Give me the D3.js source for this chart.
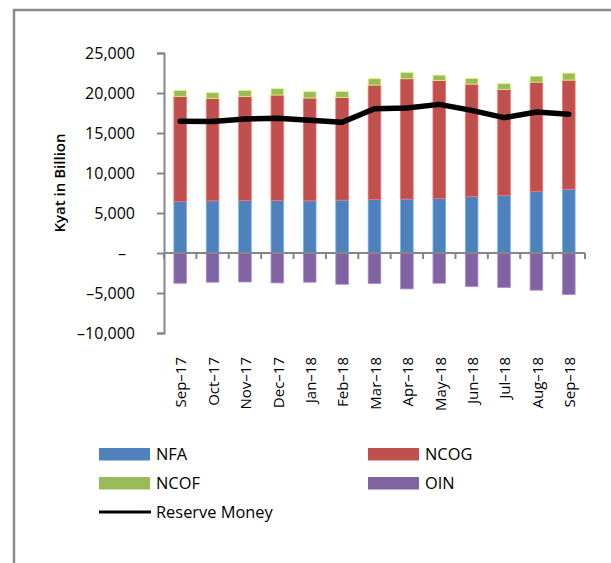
<!DOCTYPE html>
<html>
<head>
<meta charset="utf-8">
<script src="https://cdn.jsdelivr.net/npm/d3@7"></script>
<style>
  body { margin: 0; background: #fff; }
  text { font-family: "Open Sans", "Noto Sans", sans-serif; fill: #000; }
</style>
</head>
<body>
<div class="svgcontainer"></div>
<script>
// months on the x axis
const months = ["Sep\u201317", "Oct\u201317", "Nov\u201317", "Dec\u201317", "Jan\u201318", "Feb\u201318",
    "Mar\u201318", "Apr\u201318", "May\u201318", "Jun\u201318", "Jul\u201318", "Aug\u201318", "Sep\u201318"];

// stacked components (Kyat billion)
const nfa  = [6450, 6520, 6570, 6570, 6520, 6610, 6690, 6730, 6820, 7070, 7200, 7690, 7980];
const ncog = [13130, 12810, 13010, 13175, 12850, 12840, 14300, 15050, 14755, 14040, 13255, 13665, 13630];
const ncof = [750, 710, 750, 790, 790, 750, 795, 785, 660, 710, 710, 750, 875];
const oin  = [-3780, -3650, -3620, -3740, -3650, -3910, -3820, -4490, -3780, -4200, -4320, -4650, -5200];
const reserveMoney = [16460, 16440, 16750, 16840, 16590, 16340, 18040, 18120, 18580, 17830, 16920, 17620, 17330];

const yTicks = [-10000, -5000, 0, 5000, 10000, 15000, 20000, 25000];

const colors = { NFA: "#4F81BD", NCOG: "#C0504D", NCOF: "#9BBB59", OIN: "#8064A2" };

const W = 611, H = 563;
const plot = { left: 164, right: 585, top: 53, bottom: 333 };

const svg = d3.select(".svgcontainer")
    .append("svg")
    .attr("width", W)
    .attr("height", H);

// outer frame (runs past the right and bottom edge)
svg.append("rect")
    .attr("x", 14).attr("y", 10)
    .attr("width", 700).attr("height", 700)
    .attr("fill", "none")
    .attr("stroke", "#8c8c8c")
    .attr("stroke-width", 2.5);

const x = d3.scaleBand().domain(months).range([plot.left, plot.right]).paddingInner(0.61).paddingOuter(0.305);
const y = d3.scaleLinear().domain([-10000, 25000]).range([plot.bottom, plot.top]);

// build stacks: positive parts stack up from 0, OIN hangs below 0
const rows = months.map((m, i) => {
    const a = nfa[i], b = a + ncog[i], c = b + ncof[i];
    return [
        { m, key: "NFA", y0: 0, y1: a },
        { m, key: "NCOG", y0: a, y1: b },
        { m, key: "NCOF", y0: b, y1: c },
        { m, key: "OIN", y0: oin[i], y1: 0 }
    ];
}).flat();

svg.append("g")
    .selectAll("rect")
    .data(rows)
    .enter()
    .append("rect")
    .attr("x", d => x(d.m))
    .attr("width", x.bandwidth())
    .attr("y", d => y(d.y1))
    .attr("height", d => y(d.y0) - y(d.y1))
    .attr("fill", d => colors[d.key])
    .attr("stroke", d => d3.color(colors[d.key]).brighter(0.9))
    .attr("stroke-width", 0.8);

// y axis
const yAxis = svg.append("g")
    .attr("transform", `translate(${plot.left},0)`)
    .call(d3.axisLeft(y).tickValues(yTicks).tickSize(7).tickPadding(22)
        .tickFormat(v => v === 0 ? "\u2013" : (v < 0 ? "\u2013" + d3.format(",")(-v) : d3.format(",")(v))));
yAxis.select(".domain").attr("stroke", "#868686").attr("stroke-width", 2);
yAxis.selectAll(".tick line").attr("stroke", "#868686").attr("stroke-width", 2);
yAxis.selectAll(".tick text")
    .attr("font-size", 16)
    .style("font-family", "'Open Sans', sans-serif")
    .attr("dx", v => v === 0 ? -9 : 0);

// x axis along zero with ticks at category boundaries
const xAxisG = svg.append("g").attr("transform", `translate(0,${y(0)})`);
xAxisG.append("line")
    .attr("x1", plot.left).attr("x2", plot.right)
    .attr("stroke", "#868686").attr("stroke-width", 2);
const step = x.step();
xAxisG.selectAll(".bt")
    .data(d3.range(months.length + 1))
    .enter()
    .append("line")
    .attr("x1", i => plot.left + i * step)
    .attr("x2", i => plot.left + i * step)
    .attr("y1", 0).attr("y2", 6)
    .attr("stroke", "#868686").attr("stroke-width", 2);

// month labels below the plot
svg.append("g")
    .selectAll("text")
    .data(months)
    .enter()
    .append("text")
    .attr("transform", d => `translate(${x(d) + x.bandwidth() / 2 + 1},357) rotate(-90)`)
    .attr("text-anchor", "end")
    .attr("dy", "0.35em")
    .attr("font-size", 15)
    .text(d => d);

// y axis title
svg.append("text")
    .attr("transform", "translate(65,183) rotate(-90)")
    .attr("text-anchor", "middle")
    .attr("font-size", 15)
    .attr("font-weight", 600)
    .text("Kyat in Billion");

// reserve money line
const line = d3.line()
    .x((d, i) => x(months[i]) + x.bandwidth() / 2)
    .y(d => y(d));
svg.append("path")
    .datum(reserveMoney)
    .attr("d", line)
    .attr("fill", "none")
    .attr("stroke", "#000")
    .attr("stroke-width", 5.5)
    .attr("stroke-linejoin", "round")
    .attr("stroke-linecap", "round");

// legend
const legendItems = [
    { key: "NFA", x: 99, y: 448 },
    { key: "NCOG", x: 368, y: 448 },
    { key: "NCOF", x: 99, y: 477 },
    { key: "OIN", x: 368, y: 477 }
];
const lg = svg.append("g");
lg.selectAll("rect")
    .data(legendItems)
    .enter()
    .append("rect")
    .attr("x", d => d.x).attr("y", d => d.y)
    .attr("width", 51).attr("height", 12.5)
    .attr("fill", d => colors[d.key]);
lg.selectAll("text.lab")
    .data(legendItems)
    .enter()
    .append("text")
    .attr("class", "lab")
    .attr("x", d => d.x + 57)
    .attr("y", d => d.y + 12)
    .attr("font-size", 16.4)
    .text(d => d.key);
lg.append("line")
    .attr("x1", 99).attr("x2", 151)
    .attr("y1", 512).attr("y2", 512)
    .attr("stroke", "#000").attr("stroke-width", 3);
lg.append("text")
    .attr("x", 156).attr("y", 518)
    .attr("font-size", 16.4)
    .text("Reserve Money");
</script>
</body>
</html>
